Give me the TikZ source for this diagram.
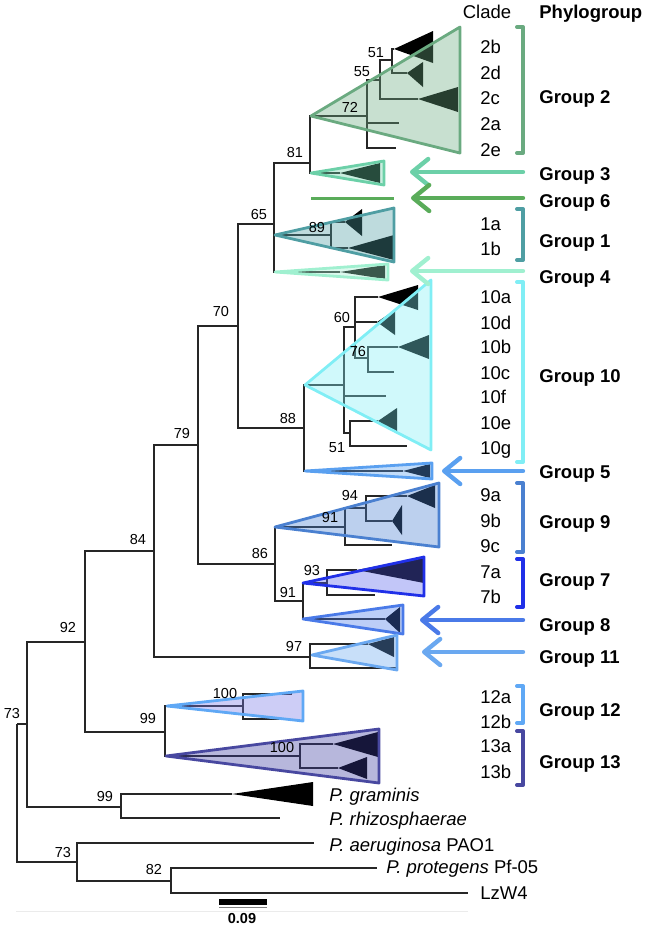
\documentclass[tikz,border=0pt]{standalone}
\usepackage{fontspec}
\setmainfont{Liberation Sans}
\usetikzlibrary{arrows.meta}

\definecolor{grp2}{RGB}{106,170,128}
\definecolor{grp3}{RGB}{108,208,168}
\definecolor{grp6}{RGB}{90,172,90}
\definecolor{grp1}{RGB}{79,158,163}
\definecolor{grp4}{RGB}{160,240,208}
\definecolor{grp10}{RGB}{128,238,245}
\definecolor{grp5}{RGB}{90,160,240}
\definecolor{grp9}{RGB}{74,128,208}
\definecolor{grp7}{RGB}{32,48,232}
\definecolor{grp7fill}{RGB}{90,100,235}
\definecolor{grp8}{RGB}{74,122,232}
\definecolor{grp11}{RGB}{106,168,240}
\definecolor{grp12}{RGB}{95,168,245}
\definecolor{grp12fill}{RGB}{120,120,230}
\definecolor{grp13}{RGB}{72,72,160}
\definecolor{grp13fill}{RGB}{60,60,160}

\newcommand{\labfont}{\fontsize{9.25}{11}\selectfont}
\newcommand{\bootfont}{\fontsize{7.25}{8}\selectfont}

\tikzset{
  branch/.style={line width=0.6pt, black!85},
  boot/.style={font=\bootfont, inner sep=0pt, anchor=base, yshift=-2.6pt},
  clade/.style={font=\labfont, inner sep=0pt, anchor=base west, yshift=-3.3pt},
  phylo/.style={font=\labfont\bfseries, inner sep=0pt, anchor=base west, yshift=-3.3pt},
  grp/.style={draw=#1, fill=#1, fill opacity=0.37, line width=1.4pt, line join=round},
  brk/.style={draw=#1, line width=2pt, line join=round, line cap=round},
  pointer/.style={draw=#1, line width=2.2pt, line cap=round,
    -{Straight Barb[length=8pt,width=13pt,round]}},
}

\begin{document}
\begin{tikzpicture}[x=0.5pt,y=-0.5pt]
  \useasboundingbox (0,0) rectangle (648,928);

  % backbone of the tree
  \coordinate (root) at (17,724);
  \coordinate (nA) at (27,724);
  \coordinate (nB) at (77,862);
  \coordinate (n92) at (85,642);
  \coordinate (n84) at (154,551);
  \coordinate (n79) at (198,445);
  \coordinate (n70) at (238,326);
  \coordinate (n65) at (274,224);
  \coordinate (n81) at (310,163);
  \coordinate (n88) at (304,428);
  \coordinate (n86) at (275,564);
  \coordinate (n91) at (303,601);
  \coordinate (n97) at (310,657);
  \coordinate (n99) at (165,732);
  \coordinate (nPg) at (121,807);
  \coordinate (n82) at (171,881);
  % group apices and leaves
  \coordinate (a2) at (311,116);
  \coordinate (a3) at (311,173);
  \coordinate (a6) at (311,198);
  \coordinate (a1) at (275,235);
  \coordinate (a4) at (275,272);
  \coordinate (a10) at (305,385);
  \coordinate (a5) at (305,471);
  \coordinate (a9) at (275,527);
  \coordinate (a7) at (303,583);
  \coordinate (a8) at (303,619);
  \coordinate (l11a) at (368,644);
  \coordinate (l11b) at (397,668);
  \coordinate (a12) at (167,706);
  \coordinate (a13) at (166,756);
  \coordinate (tPg) at (232,794);
  \coordinate (lRh) at (280,818);
  \coordinate (lAe) at (314,843);
  \coordinate (lPp) at (377,868);
  \coordinate (lLz) at (468,893);

  \foreach \p/\c in {root/nA, root/nB, nA/n92, nA/nPg, n92/n84, n92/n99,
      n84/n79, n84/n97, n79/n70, n79/n86, n70/n65, n70/n88,
      n65/n81, n65/a1, n65/a4, n81/a2, n81/a3, n88/a10, n88/a5,
      n86/a9, n86/n91, n91/a7, n91/a8, n97/l11a, n97/l11b,
      n99/a12, n99/a13, nPg/tPg, nPg/lRh, nB/lAe, nB/n82, n82/lPp, n82/lLz}
    \draw[branch] (\p) |- (\c);

  % inside the groups
  \draw[branch] (a2) -- (367,116);
  \draw[branch] (367,116) |- (380,80);
  \draw[branch] (367,116) |- (399,123);
  \draw[branch] (367,116) |- (396,148);
  \draw[branch] (380,80) |- (392,60);
  \draw[branch] (380,80) |- (418,99);
  \draw[branch] (392,60) |- (394,49);
  \draw[branch] (392,60) |- (407,73);
  \draw[branch] (a3) -- (340,173);
  \draw[branch] (a1) -- (331,235);
  \draw[branch] (331,235) |- (345,222);
  \draw[branch] (331,235) |- (348,248);
  \draw[branch] (a4) -- (340,272);
  \draw[branch] (a10) -- (344,385);
  \draw[branch] (344,385) |- (355,327);
  \draw[branch] (344,385) |- (386,396);
  \draw[branch] (344,385) |- (350,433);
  \draw[branch] (355,327) |- (378,297);
  \draw[branch] (355,327) |- (377,322);
  \draw[branch] (355,327) |- (368,358);
  \draw[branch] (368,358) |- (398,347);
  \draw[branch] (368,358) |- (394,372);
  \draw[branch] (350,433) |- (378,421);
  \draw[branch] (350,433) |- (407,446);
  \draw[branch] (a5) -- (403,471);
  \draw[branch] (a9) -- (345,527);
  \draw[branch] (345,527) |- (366,508);
  \draw[branch] (345,527) |- (392,545);
  \draw[branch] (366,508) |- (407,496);
  \draw[branch] (366,508) |- (392,521);
  \draw[branch] (a7) -- (327,583);
  \draw[branch] (327,583) |- (357,570);
  \draw[branch] (327,583) |- (375,595);
  \draw[branch] (a8) -- (385,619);
  \draw[branch] (a12) -- (243,706);
  \draw[branch] (243,706) |- (292,694);
  \draw[branch] (243,706) |- (290,719);
  \draw[branch] (a13) -- (300,756);
  \draw[branch] (300,756) |- (333,744);
  \draw[branch] (300,756) |- (338,768);

  % collapsed clades
  \fill (394,49) -- (433,31) -- (433,63) -- cycle;
  \fill (407,73) -- (423,62) -- (423,87) -- cycle;
  \fill (418,99) -- (458,87) -- (458,112) -- cycle;
  \fill (340,173) -- (380,163) -- (380,183) -- cycle;
  \fill (345,222) -- (362,209) -- (362,236) -- cycle;
  \fill (348,248) -- (394,235) -- (394,260) -- cycle;
  \fill (340,272) -- (385,265) -- (385,279) -- cycle;
  \fill (378,297) -- (418,285) -- (418,310) -- cycle;
  \fill (377,322) -- (395,310) -- (395,335) -- cycle;
  \fill (398,347) -- (429,335) -- (429,359) -- cycle;
  \fill (378,421) -- (397,408) -- (397,433) -- cycle;
  \fill (403,471) -- (430,464) -- (430,478) -- cycle;
  \fill (407,496) -- (435,485) -- (435,508) -- cycle;
  \fill (392,521) -- (402,505) -- (402,535) -- cycle;
  \fill (357,570) -- (424,557) -- (424,583) -- cycle;
  \fill (385,619) -- (400,607) -- (400,633) -- cycle;
  \fill (l11a) -- (394,637) -- (394,657) -- cycle;
  \fill (333,744) -- (378,732) -- (378,757) -- cycle;
  \fill (338,768) -- (367,757) -- (367,779) -- cycle;
  \fill (tPg) -- (313,782) -- (313,806) -- cycle;

  % phylogroups
  \draw[grp=grp2] (a2) -- (460,27) -- (460,153) -- cycle;
  \draw[grp=grp3] (a3) -- (384,161) -- (384,185) -- cycle;
  \draw[grp6, line width=1.5pt] (a6) -- (394,198);
  \draw[grp=grp1] (a1) -- (394,208) -- (394,262) -- cycle;
  \draw[grp=grp4] (a4) -- (388,264) -- (388,280) -- cycle;
  \draw[grp=grp10] (a10) -- (431,280) -- (431,450) -- cycle;
  \draw[grp=grp5] (a5) -- (432,463) -- (432,479) -- cycle;
  \draw[grp=grp9] (a9) -- (439,483) -- (439,547) -- cycle;
  \draw[grp=grp7, fill=grp7fill] (a7) -- (424,557) -- (424,596) -- cycle;
  \draw[grp=grp8] (a8) -- (403,605) -- (403,634) -- cycle;
  \draw[grp=grp11] (312,655) -- (397,635) -- (397,670) -- cycle;
  \draw[grp=grp12, fill=grp12fill] (a12) -- (303,691) -- (303,721) -- cycle;
  \draw[grp=grp13, fill=grp13fill] (a13) -- (379,729) -- (379,783) -- cycle;

  % bootstrap values
  \foreach \v/\x/\y [count=\i] in {51/376/52, 55/362/71, 72/350/107, 81/295/152,
      65/259/214, 89/317/227, 70/221/311, 60/342/317, 76/358/351, 88/288/418,
      51/337/447, 79/182/433, 94/350/495, 91/330/517, 86/260/553, 93/312/570,
      91/288/592, 84/138/539, 92/68/627, 97/294/646, 100/225/693, 99/148/718,
      73/12/713, 100/282/747, 99/105/796, 73/63/852, 82/154/869}
    \node[boot] (bs\i) at (\x,\y) {\v};

  % outgroup labels
  \node[clade] (sp-gram) at (329,795) {\textit{P. graminis}};
  \node[clade] (sp-rhiz) at (329,819) {\textit{P. rhizosphaerae}};
  \node[clade] (sp-aeru) at (329,845) {\textit{P. aeruginosa} PAO1};
  \node[clade] (sp-prot) at (386,867) {\textit{P. protegens} Pf-05};
  \node[clade] (sp-lzw) at (480,893) {LzW4};

  % headers, clades and phylogroups
  \node[font=\labfont, inner sep=0pt, anchor=base, yshift=-3.3pt] (hd-clade) at (487,12) {Clade};
  \node[phylo] (hd-phylo) at (539,12) {Phylogroup};
  \foreach \lab/\y in {2b/47, 2d/73, 2c/98, 2a/124, 2e/150, 1a/224, 1b/249,
      10a/297, 10d/323, 10b/347, 10c/373, 10f/397, 10e/423, 10g/448,
      9a/495, 9b/521, 9c/546, 7a/572, 7b/597, 12a/697, 12b/722, 13a/746, 13b/772}
    \node[clade] (cl-\lab) at (480,\y) {\lab};
  \foreach \g/\y in {2/97, 3/174, 6/201, 1/241, 4/277, 10/376, 5/472, 9/522,
      7/580, 8/625, 11/657, 12/710, 13/762}
    \node[phylo] (ph-\g) at (539,\y) {Group \g};

  % brackets
  \foreach \g/\ya/\yb in {2/27/153, 1/209/260, 10/282/462, 9/483/552,
      7/559/607, 12/686/723, 13/731/785}
    \draw[brk=grp\g] (517,\ya) -- (523,\ya) -- (523,\yb) -- (517,\yb);

  % arrows to single-clade groups
  \foreach \g/\y/\tx in {3/172/410, 6/198/411, 4/271/410, 5/471/442,
      8/620/420, 11/652/422}{
    \coordinate (tail\g) at (523,\y);
    \coordinate (tip\g) at (\tx,\y);
    \draw[pointer=grp\g] (tail\g) -- (tip\g);
  }

  % scale bar
  \draw[black!8] (16,911) -- (468,911);
  \fill (219,899) rectangle (267,905);
  \draw[black!50, line width=0.3pt] (219,907.5) -- (267,907.5);
  \node[font=\bootfont\bfseries, inner sep=0pt, anchor=base, yshift=-2.6pt] (scl) at (242,918) {0.09};
\end{tikzpicture}
\end{document}
